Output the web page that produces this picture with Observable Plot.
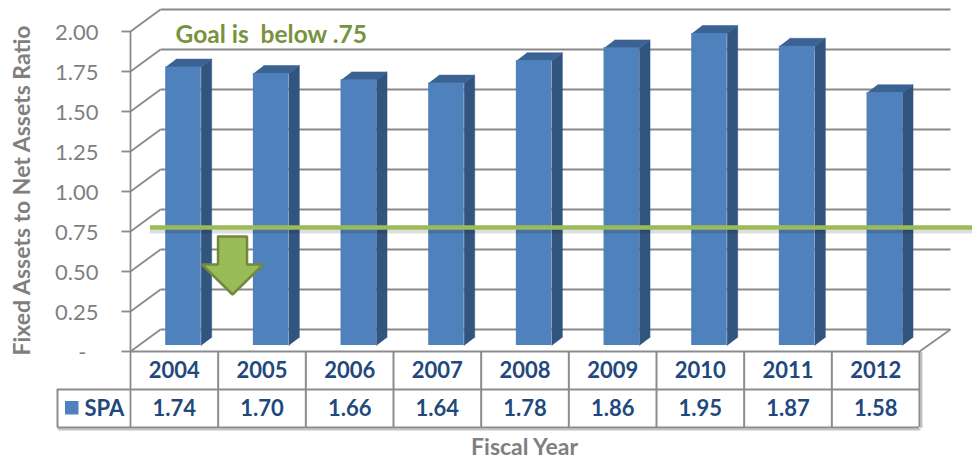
<!DOCTYPE html>
<html>
<head>
<meta charset="utf-8">
<script src="https://cdn.jsdelivr.net/npm/d3@7"></script>
<script src="https://cdn.jsdelivr.net/npm/@observablehq/plot@0.6"></script>
<style>
  html, body { margin: 0; padding: 0; background: #ffffff; }
  svg text { white-space: pre; }
  g[aria-label="goal-shadow"] { filter: blur(1.8px); }
  g[aria-label="table-shadow"] { filter: blur(1px); }
</style>
</head>
<body>
<div id="chart"></div>
<script>
// Fixed assets to net assets ratio by fiscal year
const years = ["2004", "2005", "2006", "2007", "2008", "2009", "2010", "2011", "2012"];
const ratios = [1.74, 1.70, 1.66, 1.64, 1.78, 1.86, 1.95, 1.87, 1.58];
const seriesName = "SPA";
const yTicks = [0, 0.25, 0.5, 0.75, 1.0, 1.25, 1.5, 1.75, 2.0];
const yTickLabels = ["-", "0.25", "0.50", "0.75", "1.00", "1.25", "1.50", "1.75", "2.00"];
const goal = 0.75;
const goalText = "Goal is  below .75";
const yTitle = "Fixed Assets to Net Assets Ratio";
const xTitle = "Fiscal Year";

// Layout: the frame is the plane the bars stand in; x runs one unit per year column
const W = 974, H = 460;
const ML = 130, MR = 55, MT = 25, MB = 115;
const colPx = (W - ML - MR) / years.length;
const unitPx = (H - MT - MB) / 2;
const px = (p) => p / colPx;            // horizontal pixel distance in x units
const py = (p) => p / unitPx;           // vertical pixel distance in y units
const atX = (p) => (p - ML) / colPx;    // absolute pixel column in x units
const atY = (p) => (H - MB - p) / unitPx; // absolute pixel row in y units

// 3-D offsets of the chart walls and bar depth
const frontDrop = py(6);                // front edge sits below the bar plane
const backRise = py(16);                // back wall sits above the bar plane
const backShift = px(30);
const backEnd = atX(950);
const barLeft = px(35.2), barRight = px(70.7);
const depthX = px(10.5), depthY = py(8);

const rows = years.map((year, i) => ({year, i, value: ratios[i]}));

// Side and top faces of each bar as closed polygons
const sideFaces = rows.flatMap(d => {
  const x0 = d.i + barRight;
  return [
    {key: d.year, x: x0, y: 0},
    {key: d.year, x: x0, y: d.value},
    {key: d.year, x: x0 + depthX, y: d.value + depthY},
    {key: d.year, x: x0 + depthX, y: depthY}
  ];
});
const topFaces = rows.flatMap(d => [
  {key: d.year, x: d.i + barLeft, y: d.value},
  {key: d.year, x: d.i + barRight, y: d.value},
  {key: d.year, x: d.i + barRight + depthX, y: d.value + depthY},
  {key: d.year, x: d.i + barLeft + depthX, y: d.value + depthY}
]);

// Down arrow under the goal line, in the gap between the first two bars
const arrowX = (barRight + depthX + 1 + barLeft) / 2;
const shaftHalf = px(14.5), headHalf = px(30.5);
const arrowTop = goal - py(11), arrowNeck = goal - py(39), arrowTip = goal - py(69);
const arrow = [
  [arrowX - shaftHalf, arrowTop], [arrowX + shaftHalf, arrowTop],
  [arrowX + shaftHalf, arrowNeck], [arrowX + headHalf, arrowNeck],
  [arrowX, arrowTip], [arrowX - headHalf, arrowNeck],
  [arrowX - shaftHalf, arrowNeck], [arrowX - shaftHalf, arrowTop]
].map(([x, y]) => ({x, y}));

// Data table rows
const tableTop = -frontDrop, tableMid = atY(389), tableBottom = atY(427);
const tableLeft = atX(57);
const yearRow = atY(370), valueRow = atY(408);

const grid = "#8a8a8a";
const tableLine = "#8c8c8c";
const gray = "#7f7f7f";
const navy = "#1f497d";
const font = "Lato";

const chart = Plot.plot({
  width: W,
  height: H,
  marginLeft: ML,
  marginRight: MR,
  marginTop: MT,
  marginBottom: MB,
  x: {type: "linear", domain: [0, years.length], axis: null},
  y: {type: "linear", domain: [0, 2], axis: null},
  style: {fontFamily: font, background: "#ffffff", overflow: "visible"},
  marks: [
    // back wall gridlines and the side-wall diagonals
    Plot.link(yTicks, {x1: 0, y1: v => v - frontDrop, x2: backShift, y2: v => v + backRise, stroke: grid, strokeWidth: 1.8}),
    Plot.link(yTicks, {x1: backShift, y1: v => v + backRise, x2: backEnd, y2: v => v + backRise, stroke: grid, strokeWidth: 1.8}),
    // floor edge on the right
    Plot.link([0], {x1: years.length, y1: -frontDrop, x2: backEnd, y2: backRise, stroke: grid, strokeWidth: 1.8}),
    // front value axis with ticks
    Plot.ruleX([0], {y1: 2 - frontDrop, y2: tableBottom, stroke: grid, strokeWidth: 1.8}),
    Plot.link(yTicks, {x1: -px(9), x2: 0, y1: v => v - frontDrop, y2: v => v - frontDrop, stroke: grid, strokeWidth: 1.8}),
    Plot.text(yTicks.slice(1), {x: 0, y: v => v - frontDrop, text: (d, i) => yTickLabels[i + 1], textAnchor: "end", dx: -32, dy: 1, fill: gray, fontSize: 22}),
    Plot.text(yTicks.slice(0, 1), {x: 0, y: v => v - frontDrop, text: () => yTickLabels[0], textAnchor: "end", dx: -44, dy: 1, fill: gray, fontSize: 22}),

    // bars: side, top and front faces
    Plot.line(sideFaces, {x: "x", y: "y", z: "key", fill: "#32557f", stroke: "#32557f", strokeWidth: 0.5}),
    Plot.line(topFaces, {x: "x", y: "y", z: "key", fill: "#3a6394", stroke: "#3a6394", strokeWidth: 0.5}),
    Plot.rectY(rows, {x1: d => d.i + barLeft, x2: d => d.i + barRight, y1: 0, y2: "value", fill: "#4f81bd"}),

    // goal line with a soft shadow
    Plot.ruleY([goal], {x1: atX(150), x2: atX(972), dy: 6, stroke: "#000000", strokeOpacity: 0.13, strokeWidth: 4, ariaLabel: "goal-shadow"}),
    Plot.ruleY([goal], {x1: atX(150), x2: atX(972), dy: 2, stroke: "#9bbb59", strokeWidth: 4.5}),
    Plot.line(arrow, {x: "x", y: "y", fill: "#9bbb59", stroke: "#71893f", strokeWidth: 2.5, strokeLinejoin: "miter"}),
    Plot.text([goalText], {x: atX(175), y: atY(35), text: d => d, textAnchor: "start", fill: "#77933c", fontWeight: "bold", fontSize: 24.5}),

    // data table
    Plot.ruleY([tableBottom], {x1: tableLeft, x2: years.length, dx: 1.5, dy: 2, stroke: "#c4c4c4", strokeWidth: 2, ariaLabel: "table-shadow"}),
    Plot.ruleX([years.length], {y1: tableTop, y2: tableBottom, dx: 2, dy: 1, stroke: "#c4c4c4", strokeWidth: 2, ariaLabel: "table-shadow"}),
    Plot.ruleY([tableTop], {x1: 0, x2: years.length, stroke: tableLine, strokeWidth: 2}),
    Plot.ruleY([tableMid, tableBottom], {x1: tableLeft, x2: years.length, stroke: tableLine, strokeWidth: 2}),
    Plot.ruleX(d3.range(1, years.length + 1), {y1: tableTop, y2: tableBottom, stroke: tableLine, strokeWidth: 2}),
    Plot.ruleX([tableLeft], {y1: tableMid, y2: tableBottom, stroke: tableLine, strokeWidth: 2}),
    Plot.text(rows, {x: d => d.i + 0.5, y: yearRow, text: "year", fill: navy, fontWeight: "bold", fontSize: 22}),
    Plot.text(rows, {x: d => d.i + 0.5, y: valueRow, text: d => d3.format(".2f")(d.value), fill: navy, fontWeight: "bold", fontSize: 22}),
    Plot.rect([seriesName], {x1: atX(65), x2: atX(78.5), y1: atY(401), y2: atY(414.5), fill: "#4f81bd"}),
    Plot.text([seriesName], {x: atX(84), y: valueRow, text: d => d, textAnchor: "start", fill: navy, fontWeight: "bold", fontSize: 22}),

    // axis titles
    Plot.text([yTitle], {x: atX(22), y: atY(190), text: d => d, rotate: -90, fill: gray, fontWeight: "bold", fontSize: 23}),
    Plot.text([xTitle], {x: atX(524), y: atY(447), text: d => d, fill: gray, fontWeight: "bold", fontSize: 23})
  ]
});

document.getElementById("chart").appendChild(chart);
</script>
</body>
</html>
